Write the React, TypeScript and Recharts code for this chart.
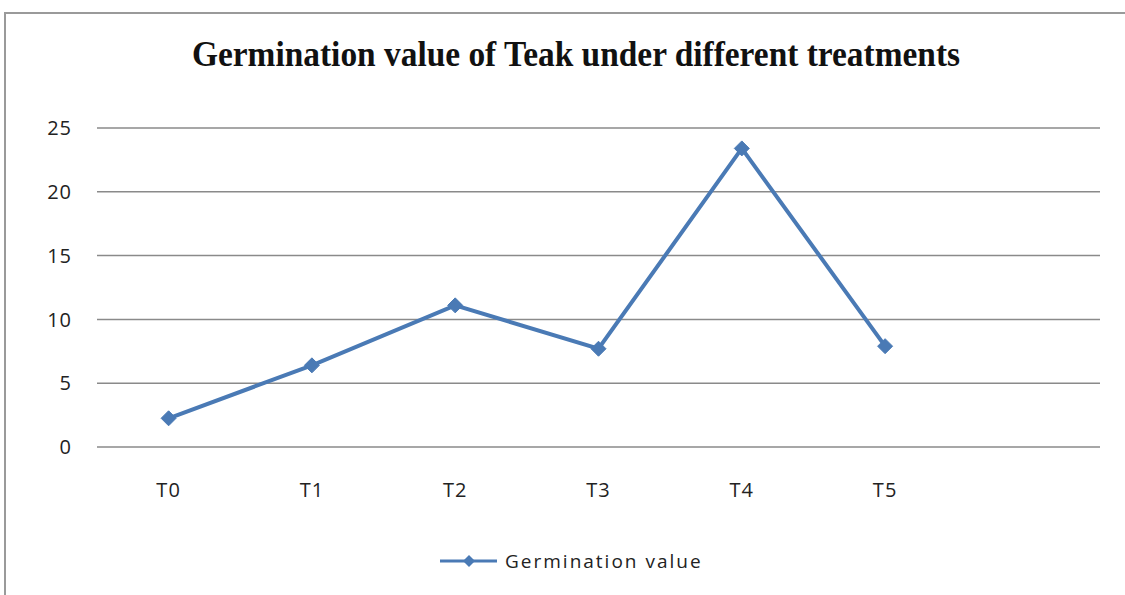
import React from 'react';
import { LineChart, Line, XAxis, YAxis, CartesianGrid, Legend } from 'recharts';

const categories = ['T0', 'T1', 'T2', 'T3', 'T4', 'T5', ''];
const germinationValues: (number | null)[] = [2.25, 6.4, 11.1, 7.7, 23.4, 7.9, null];
const yTicks = [0, 5, 10, 15, 20, 25];

const data = categories.map((c, i) => ({ name: c, value: germinationValues[i] }));

const BLUE = '#4a7ab5';

const Diamond = (props: any) => {
  const { cx, cy } = props;
  if (cx == null || cy == null) return null;
  const r = 7.5;
  return (
    <path
      d={`M${cx},${cy - r} L${cx + r},${cy} L${cx},${cy + r} L${cx - r},${cy} Z`}
      fill={BLUE}
      stroke={BLUE}
      strokeWidth={1}
    />
  );
};

const LegendContent = () => (
  <div style={{ display: 'flex', alignItems: 'center', height: 22 }}>
    <svg width={57} height={22}>
      <line x1={0} y1={11} x2={57} y2={11} stroke={BLUE} strokeWidth={3} />
      <path d="M29,5 L35,11 L29,17 L23,11 Z" fill={BLUE} />
    </svg>
    <span
      style={{
        fontFamily: 'Open Sans, sans-serif',
        fontSize: 19,
        color: '#222',
        letterSpacing: 2,
        marginLeft: 8,
        whiteSpace: 'nowrap',
      }}
    >
      Germination value
    </span>
  </div>
);

export default function App() {
  return (
    <div style={{ position: 'fixed', left: 0, top: 0, width: 1125, height: 595, background: '#fff', overflow: 'hidden' }}>
      <div
        style={{
          position: 'absolute',
          left: 4,
          top: 12,
          width: 1125,
          height: 600,
          borderLeft: '2px solid #9a9a9a',
          borderTop: '2px solid #9a9a9a',
        }}
      />
      <svg style={{ position: 'absolute', left: 0, top: 0 }} width={1125} height={100}>
        <text
          x={192}
          y={66}
          textLength={768}
          lengthAdjust="spacingAndGlyphs"
          fontFamily="Liberation Serif, Times New Roman, serif"
          fontWeight="bold"
          fontSize={35}
          fill="#111"
        >
          Germination value of Teak under different treatments
        </text>
      </svg>
      <div style={{ position: 'absolute', left: 0, top: 0 }}>
        <LineChart
          width={1125}
          height={595}
          data={data}
          margin={{ top: 128, right: 25, bottom: 23, left: 0 }}
        >
          <CartesianGrid vertical={false} stroke="#8a8a8a" strokeWidth={1.5} />
          <XAxis
            dataKey="name"
            axisLine={false}
            tickLine={false}
            height={103}
            tickMargin={30}
            padding={{ left: 71.6, right: 71.6 }}
            tick={{ fontFamily: 'Open Sans, sans-serif', fontSize: 20, fill: '#222', letterSpacing: 1 }}
            interval={0}
          />
          <YAxis
            domain={[0, 25]}
            ticks={yTicks}
            axisLine={false}
            tickLine={false}
            width={97}
            tickMargin={19}
            tick={{ fontFamily: 'Open Sans, sans-serif', fontSize: 20, fill: '#222', letterSpacing: 1 }}
          />
          <Legend
            verticalAlign="bottom"
            height={22}
            content={<LegendContent />}
            wrapperStyle={{ left: 440, width: 320 }}
          />
          <Line
            type="linear"
            dataKey="value"
            name="Germination value"
            stroke={BLUE}
            strokeWidth={4}
            dot={<Diamond />}
            activeDot={false}
            isAnimationActive={false}
          />
        </LineChart>
      </div>
    </div>
  );
}
